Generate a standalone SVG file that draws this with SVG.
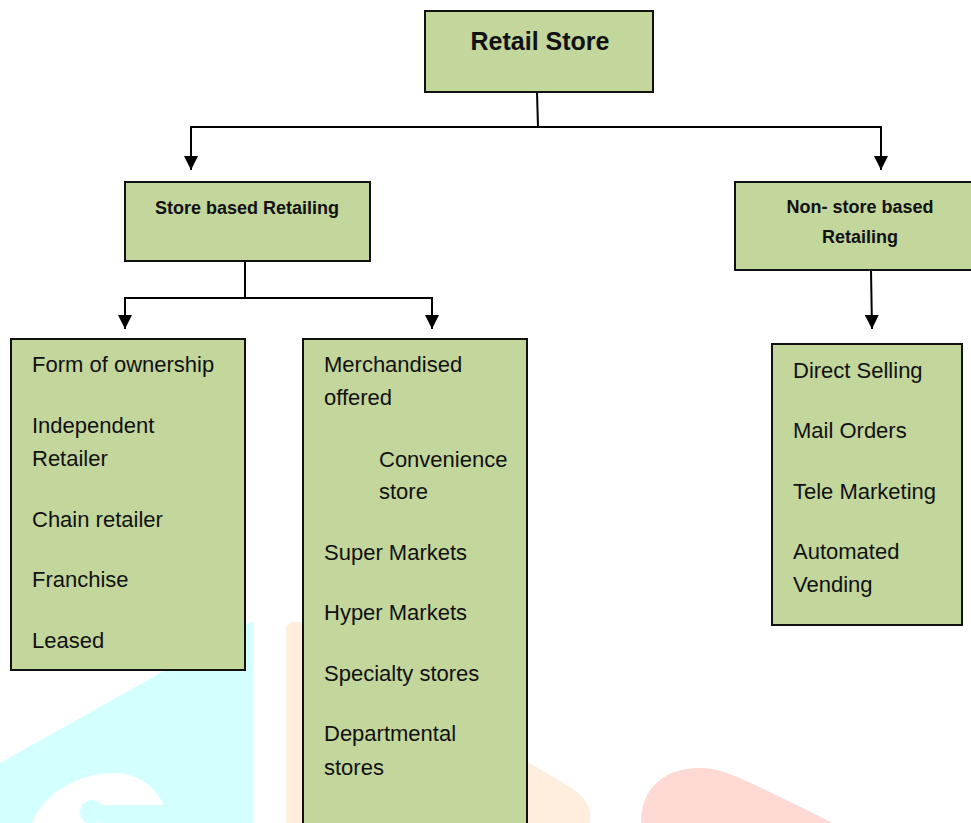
<svg xmlns="http://www.w3.org/2000/svg" width="971" height="823" viewBox="0 0 971 823">
<defs>
<style>
.box{fill:#c3d69b;stroke:#111;stroke-width:2}
.t{font-family:"Liberation Sans",Arial,sans-serif;font-size:22px;fill:#111}
.b{font-family:"Liberation Sans",Arial,sans-serif;font-weight:bold;fill:#111}
.c{fill:none;stroke:#000;stroke-width:2}
</style>
<marker id="ah" viewBox="0 0 14 14" refX="14" refY="7" markerWidth="14" markerHeight="14" markerUnits="userSpaceOnUse" orient="auto">
<path d="M0,0 L14,7 L0,14 Z" fill="#000"/>
</marker>
</defs>
<rect width="971" height="823" fill="#fff"/>
<g id="watermark">
<path d="M0,763 L253,621 L253,823 L0,823 Z" fill="#d4ffff"/>
<path d="M32,823 C45,792 78,773 115,773 C136,773 153,785 163,803 L163,823 Z" fill="#fff"/>
<circle cx="92" cy="812" r="12" fill="#d4ffff"/>
<rect x="100" y="805" width="80" height="18" fill="#d4ffff"/>
<path d="M286,823 L286,630 Q286,622 294,622 L310,622 L528,762 L570,787 Q588,799 590,812 L590,823 Z" fill="#ffeedd"/>
<path d="M641,823 C641,790 662,768 700,768 C725,768 745,780 833,823 Z" fill="#ffd9d4"/>
</g>
<g id="connectors">
<path class="c" d="M537,92 L538,127"/>
<path class="c" d="M190,127 L882,127"/>
<path class="c" d="M191,127 L191,170" marker-end="url(#ah)"/>
<path class="c" d="M881,127 L881,170" marker-end="url(#ah)"/>
<path class="c" d="M245,261 L245,298"/>
<path class="c" d="M124,298 L433,298"/>
<path class="c" d="M125,298 L125,329" marker-end="url(#ah)"/>
<path class="c" d="M432,298 L432,329" marker-end="url(#ah)"/>
<path class="c" d="M871,270 L872,329" marker-end="url(#ah)"/>
</g>
<g id="retail-store">
<rect class="box" x="425" y="11" width="228" height="81"/>
<text class="b" x="540" y="50" font-size="25" text-anchor="middle">Retail Store</text>
</g>
<g id="store-based">
<rect class="box" x="125" y="182" width="245" height="79"/>
<text class="b" x="247" y="214" font-size="18" text-anchor="middle">Store based Retailing</text>
</g>
<g id="non-store-based">
<rect class="box" x="735" y="182" width="240" height="88"/>
<text class="b" x="860" y="213" font-size="18" text-anchor="middle">Non- store based</text>
<text class="b" x="860" y="243" font-size="18" text-anchor="middle">Retailing</text>
</g>
<g id="ownership">
<rect class="box" x="11" y="339" width="234" height="331"/>
<text class="t" x="32" y="372">Form of ownership</text>
<text class="t" x="32" y="433">Independent</text>
<text class="t" x="32" y="466">Retailer</text>
<text class="t" x="32" y="527">Chain retailer</text>
<text class="t" x="32" y="587">Franchise</text>
<text class="t" x="32" y="648">Leased</text>
</g>
<g id="merchandise">
<rect class="box" x="303" y="339" width="224" height="500"/>
<text class="t" x="324" y="372">Merchandised</text>
<text class="t" x="324" y="405">offered</text>
<text class="t" x="379" y="467">Convenience</text>
<text class="t" x="379" y="499">store</text>
<text class="t" x="324" y="560">Super Markets</text>
<text class="t" x="324" y="620">Hyper Markets</text>
<text class="t" x="324" y="681">Specialty stores</text>
<text class="t" x="324" y="741">Departmental</text>
<text class="t" x="324" y="775">stores</text>
</g>
<g id="non-store-types">
<rect class="box" x="772" y="344" width="190" height="281"/>
<text class="t" x="793" y="378">Direct Selling</text>
<text class="t" x="793" y="438">Mail Orders</text>
<text class="t" x="793" y="499">Tele Marketing</text>
<text class="t" x="793" y="559">Automated</text>
<text class="t" x="793" y="592">Vending</text>
</g>
</svg>
